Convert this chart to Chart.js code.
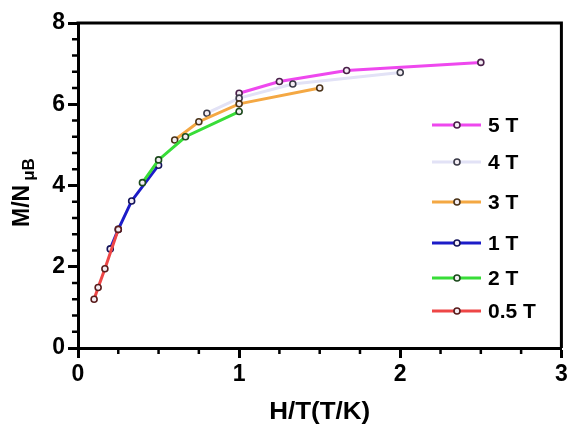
<!DOCTYPE html>
<html>
<head>
<meta charset="utf-8">
<script src="https://cdn.jsdelivr.net/npm/chart.js@4"></script>
<style>
html,body{margin:0;padding:0;background:#fff;}
#wrap{width:567px;height:425px;}
</style>
</head>
<body>
<div id="wrap"><canvas id="c" width="567" height="425"></canvas></div>
<script>
// ---- data ----
const seriesLabels = ['5 T', '4 T', '3 T', '1 T', '2 T', '0.5 T'];
const seriesColors = ['#ee48ee', '#e2e2f6', '#f4a843', '#1c1cc8', '#38dd38', '#ee4646'];
const markerBorders = ['#4a1f4a', '#3a3a48', '#4a3318', '#14145a', '#1c4a1c', '#5a1c1c'];

const x5T  = [1.0, 1.25, 1.667, 2.5];
const y5T  = [6.27, 6.56, 6.83, 7.03];
const x4T  = [0.8, 1.0, 1.333, 2.0];
const y4T  = [5.78, 6.15, 6.50, 6.78];
const x3T  = [0.6, 0.75, 1.0, 1.5];
const y3T  = [5.12, 5.57, 6.01, 6.40];
const x1T  = [0.2, 0.25, 0.333, 0.5];
const y1T  = [2.44, 2.92, 3.62, 4.50];
const x2T  = [0.4, 0.5, 0.667, 1.0];
const y2T  = [4.07, 4.63, 5.20, 5.82];
const x05T = [0.1, 0.125, 0.167, 0.25];
const y05T = [1.20, 1.49, 1.95, 2.92];

const xTickValues = [0, 1, 2, 3];
const yTickValues = [0, 2, 4, 6, 8];
const xMinorStep = 0.25;
const yMinorStep = 0.4;

const xTitle = 'H/T(T/K)';
const yTitleMain = 'M/N';
const yTitleSub = 'μB';

const allX = [x5T, x4T, x3T, x1T, x2T, x05T];
const allY = [y5T, y4T, y3T, y1T, y2T, y05T];

function pts(xs, ys) { return xs.map((v, i) => ({x: v, y: ys[i]})); }

const datasets = seriesLabels.map((lab, i) => ({
  label: lab,
  data: pts(allX[i], allY[i]),
  showLine: true,
  borderColor: seriesColors[i],
  backgroundColor: seriesColors[i],
  borderWidth: 3,
  pointRadius: 3,
  pointBorderWidth: 1.6,
  pointBorderColor: markerBorders[i],
  pointBackgroundColor: '#f4eef4',
  order: -i,
  tension: 0
}));

const FONT = '"Liberation Sans", Arial, Helvetica, sans-serif';

const decor = {
  id: 'decor',
  afterDraw(chart) {
    const ctx = chart.ctx;
    const a = chart.chartArea;
    const xs = chart.scales.x, ys = chart.scales.y;
    ctx.save();
    // frame top & right
    ctx.strokeStyle = '#000';
    ctx.lineWidth = 3;
    ctx.beginPath();
    ctx.moveTo(a.left - 1.5, a.top);
    ctx.lineTo(a.right, a.top);
    ctx.lineTo(a.right, a.bottom);
    ctx.stroke();
    // minor ticks
    ctx.lineWidth = 2.5;
    ctx.beginPath();
    for (let v = xMinorStep; v < xs.max - 1e-9; v += xMinorStep) {
      if (Math.abs(v - Math.round(v)) < 1e-6) continue;
      const px = xs.getPixelForValue(v);
      ctx.moveTo(px, a.bottom);
      ctx.lineTo(px, a.bottom + 6);
    }
    for (let v = yMinorStep; v < ys.max - 1e-9; v += yMinorStep) {
      const r = v / 2;
      if (Math.abs(r - Math.round(r)) < 1e-6) continue;
      const py = ys.getPixelForValue(v);
      ctx.moveTo(a.left, py);
      ctx.lineTo(a.left - 6, py);
    }
    ctx.stroke();
    // x title
    ctx.fillStyle = '#000';
    ctx.textAlign = 'center';
    ctx.textBaseline = 'alphabetic';
    ctx.save();
    ctx.translate((a.left + a.right) / 2, 419);
    ctx.scale(1.13, 1);
    ctx.font = 'bold 23px ' + FONT;
    ctx.fillText(xTitle, 0, 0);
    ctx.restore();
    // y title with subscript
    ctx.save();
    ctx.translate(23, 227);
    ctx.rotate(-Math.PI / 2);
    ctx.textAlign = 'left';
    ctx.textBaseline = 'middle';
    ctx.font = 'bold 23px ' + FONT;
    ctx.fillText(yTitleMain, 0, 0);
    const w = ctx.measureText(yTitleMain).width;
    ctx.font = 'bold 17px ' + FONT;
    ctx.fillText(yTitleSub, w + 4, 6.5);
    ctx.restore();
    // legend
    const rows = [125, 162, 202, 243, 278, 311];
    ctx.font = 'bold 21px ' + FONT;
    ctx.textAlign = 'left';
    ctx.textBaseline = 'middle';
    chart.data.datasets.forEach((ds, i) => {
      const y = rows[i];
      ctx.strokeStyle = ds.borderColor;
      ctx.lineWidth = 3;
      ctx.beginPath();
      ctx.moveTo(432, y);
      ctx.lineTo(481, y);
      ctx.stroke();
      ctx.beginPath();
      ctx.arc(457, y, 3, 0, Math.PI * 2);
      ctx.fillStyle = ds.pointBackgroundColor;
      ctx.fill();
      ctx.lineWidth = 1.6;
      ctx.strokeStyle = ds.pointBorderColor;
      ctx.stroke();
      ctx.fillStyle = '#000';
      ctx.fillText(ds.label, 488, y + 1);
    });
    ctx.restore();
  }
};

new Chart(document.getElementById('c'), {
  type: 'scatter',
  data: { datasets },
  options: {
    responsive: false,
    animation: false,
    layout: { padding: { top: 23, right: 4, left: 0, bottom: 0 } },
    plugins: { legend: { display: false }, tooltip: { enabled: false }, title: { display: false } },
    scales: {
      x: {
        type: 'linear',
        min: 0, max: 3,
        afterBuildTicks(s) { s.ticks = xTickValues.map(v => ({value: v})); },
        afterFit(s) { s.height = 77; s.paddingLeft = 0; s.paddingRight = 0; },
        grid: { display: true, drawOnChartArea: false, drawTicks: true, tickLength: 10, tickWidth: 3, tickColor: '#000' },
        border: { display: true, width: 3, color: '#000' },
        ticks: { color: '#000', font: { family: FONT, size: 23, weight: 'bold' }, padding: 3, maxRotation: 0, autoSkip: false }
      },
      y: {
        type: 'linear',
        min: 0, max: 8,
        afterBuildTicks(s) { s.ticks = yTickValues.map(v => ({value: v})); },
        afterFit(s) { s.width = 78; s.paddingTop = 0; s.paddingBottom = 0; },
        grid: { display: true, drawOnChartArea: false, drawTicks: true, tickLength: 10, tickWidth: 3, tickColor: '#000' },
        border: { display: true, width: 3, color: '#000' },
        ticks: { color: '#000', font: { family: FONT, size: 23, weight: 'bold' }, padding: 3, autoSkip: false }
      }
    }
  },
  plugins: [decor]
});
</script>
</body>
</html>
